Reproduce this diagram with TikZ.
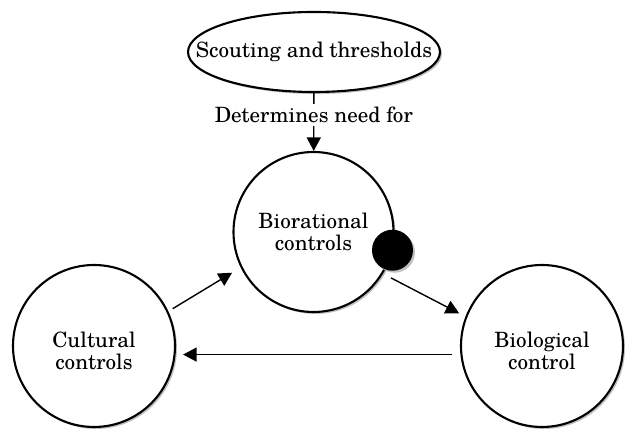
\documentclass[tikz,border=0pt]{standalone}
\usepackage{fontspec}
\setmainfont{TeX Gyre Schola}
\usetikzlibrary{arrows.meta,shapes.geometric,shadows}
\newcommand{\dropline}{\rule{0pt}{0.5cm}}
\begin{document}
\begin{tikzpicture}[line width = 0.8pt, >={Triangle[length=0.27cm, width=0.28cm]},
  every node/.style = {font=\fontsize{12}{12.5}\selectfont, align=center, inner sep=0pt},
  shade/.style = {drop shadow={shadow xshift=0.04cm, shadow yshift=-0.04cm, fill=black!25, opacity=1}},
  ctrl/.style = {circle, draw, line width=1.2pt, fill=white, minimum size=3.24cm, shade}]
\useasboundingbox (0, 0) rectangle (12.52, 8.58);
\node[ellipse, draw, line width=1.2pt, fill=white, inner xsep=-0.7cm, minimum width=5.04cm, minimum height=1.6cm, shade] (scout) at (6.28, 7.54) {Scouting and thresholds};
\node[ctrl, minimum size=3.2cm] (bior) at (6.27, 3.94) {Biorational\\controls};
\node[ctrl] (cult) at (1.88, 1.66) {\dropline Cultural\\controls};
\node[ctrl] (biol) at (10.84, 1.66) {\dropline Biological\\control};
\node[circle, fill=black, minimum size=0.82cm, shade] (dot) at (bior.-13) {};
\draw[->] (scout) -- node[pos=0.38, fill=white, inner sep=2pt] (need) {Determines need for} (bior);
\draw[->, shorten <=0.1cm, shorten >=0.2cm] (cult.25) -- (bior.206);
\draw[->, shorten <=0.18cm, shorten >=0.14cm] (bior.-31) -- (biol.159);
\draw[->, shorten <=0.16cm, shorten >=0.15cm] (biol.186) -- (cult.-6);
\end{tikzpicture}
\end{document}
